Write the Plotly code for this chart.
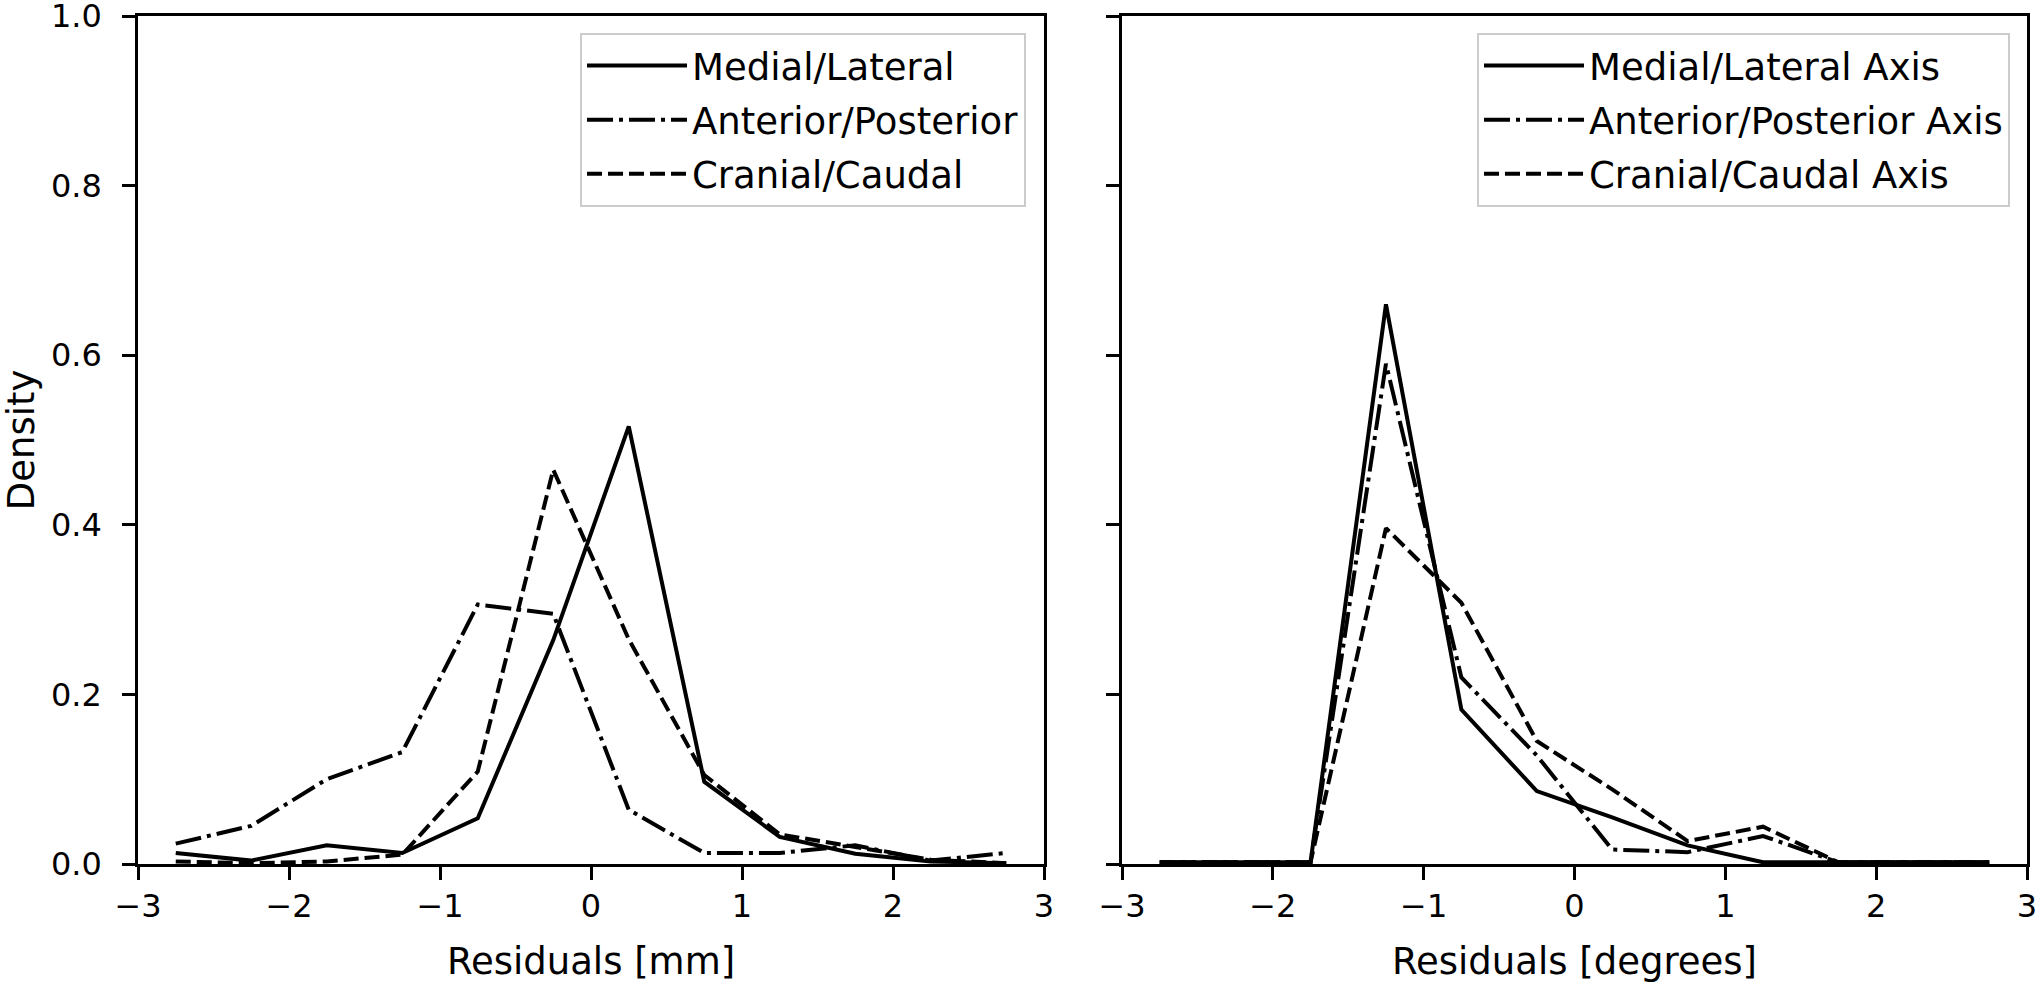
import plotly.graph_objects as go
from plotly.subplots import make_subplots

# ---- data (bin centres and densities) ----
bins = [-2.75, -2.25, -1.75, -1.25, -0.75, -0.25, 0.25, 0.75, 1.25, 1.75, 2.25, 2.75]

mm_medial_lateral = [0.013, 0.004, 0.022, 0.013, 0.054, 0.264, 0.516, 0.097, 0.032, 0.012, 0.003, 0.001]
mm_anterior_posterior = [0.024, 0.045, 0.100, 0.132, 0.306, 0.295, 0.064, 0.013, 0.013, 0.022, 0.004, 0.013]
mm_cranial_caudal = [0.003, 0.001, 0.003, 0.011, 0.109, 0.465, 0.265, 0.105, 0.035, 0.020, 0.005, 0.001]

deg_medial_lateral = [0.002, 0.002, 0.002, 0.660, 0.182, 0.086, 0.055, 0.022, 0.002, 0.002, 0.002, 0.002]
deg_anterior_posterior = [0.002, 0.002, 0.002, 0.590, 0.220, 0.128, 0.017, 0.014, 0.033, 0.002, 0.002, 0.002]
deg_cranial_caudal = [0.002, 0.002, 0.002, 0.396, 0.308, 0.145, 0.088, 0.027, 0.044, 0.002, 0.002, 0.002]

names_mm = ["Medial/Lateral", "Anterior/Posterior", "Cranial/Caudal"]
names_deg = ["Medial/Lateral Axis", "Anterior/Posterior Axis", "Cranial/Caudal Axis"]

x_ticks = [-3, -2, -1, 0, 1, 2, 3]
x_tick_text = ["\u22123", "\u22122", "\u22121", "0", "1", "2", "3"]
y_ticks = [0.0, 0.2, 0.4, 0.6, 0.8, 1.0]
y_tick_text = ["0.0", "0.2", "0.4", "0.6", "0.8", "1.0"]

# ---- styles ----
LW = 4
dashes = ["solid", "26px,6px,4px,6px", "15px,6px"]
FONT = "DejaVu Sans"
TICK_SIZE = 32
TITLE_SIZE = 37
LEG_SIZE = 37

fig = make_subplots(rows=1, cols=2, shared_yaxes=True)

for i, (name, ys) in enumerate(zip(names_mm, [mm_medial_lateral, mm_anterior_posterior, mm_cranial_caudal])):
    fig.add_trace(go.Scatter(x=bins, y=ys, mode="lines", name=name,
                             line=dict(color="black", width=LW, dash=dashes[i]),
                             legend="legend", legendgroup="l%d" % i), row=1, col=1)

for i, (name, ys) in enumerate(zip(names_deg, [deg_medial_lateral, deg_anterior_posterior, deg_cranial_caudal])):
    fig.add_trace(go.Scatter(x=bins, y=ys, mode="lines", name=name,
                             line=dict(color="black", width=LW, dash=dashes[i]),
                             legend="legend2", legendgroup="r%d" % i), row=1, col=2)

W, H = 2040, 983
axis_common = dict(showgrid=False, zeroline=False, showline=True, linecolor="black", linewidth=2.5,
                   mirror=True, ticks="outside", ticklen=13, tickwidth=2.5, tickcolor="black",
                   automargin=False, ticklabeloverflow="allow",
                   tickfont=dict(family=FONT, size=TICK_SIZE, color="black"))

fig.update_xaxes(range=[-3, 3], tickvals=x_ticks, ticktext=x_tick_text, ticklabelstandoff=-1, **axis_common)
fig.update_yaxes(range=[0, 1], tickvals=y_ticks, ticktext=y_tick_text, ticklabelstandoff=14, **axis_common)

legend_common = dict(yanchor="top", y=1 - 33 / H, xanchor="right",
                     bgcolor="rgba(255,255,255,0.8)", bordercolor="#cccccc", borderwidth=2,
                     font=dict(family=FONT, size=LEG_SIZE, color="black"),
                     tracegroupgap=3, itemwidth=100)

fig.update_layout(
    template="none",
    width=W, height=H,
    margin=dict(l=0, r=0, t=0, b=0, autoexpand=False),
    plot_bgcolor="white", paper_bgcolor="white",
    font=dict(family=FONT, color="black"),
    xaxis=dict(domain=[138 / W, 1044 / W],
               title=dict(text="Residuals [mm]", font=dict(size=TITLE_SIZE), standoff=24)),
    xaxis2=dict(domain=[1122 / W, 2027 / W],
                title=dict(text="Residuals [degrees]", font=dict(size=TITLE_SIZE), standoff=24)),
    yaxis=dict(domain=[1 - 864 / H, 1 - 16 / H],
               title=dict(text="Density", font=dict(size=TITLE_SIZE), standoff=13)),
    yaxis2=dict(domain=[1 - 864 / H, 1 - 16 / H], showticklabels=False),
    legend=dict(x=1026 / W, **legend_common),
    legend2=dict(x=2010 / W, **legend_common),
)

# remove the browser's default 8px page margin so the figure starts at the window's corner
fig.write_html("out.html",
               config={"displayModeBar": False},
               post_script="document.body.style.margin='0';document.body.style.overflow='hidden';")
